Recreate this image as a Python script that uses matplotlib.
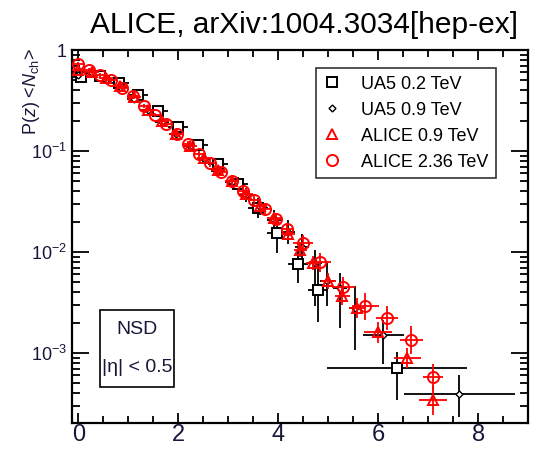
import numpy as np
import matplotlib
matplotlib.use("Agg")
import matplotlib.pyplot as plt
from matplotlib import font_manager
from matplotlib.patches import Rectangle
from matplotlib.lines import Line2D

# ---- data: multiplicity distributions in KNO variable z = N_ch/<N_ch> ----
ua5_200_z = [0.05, 0.43, 0.82, 1.20, 1.60, 2.00, 2.40, 2.80, 3.20, 3.60, 3.98, 4.40, 4.80, 6.38]
ua5_200_p = [0.54, 0.55, 0.47, 0.355, 0.25, 0.174, 0.115, 0.074, 0.047, 0.0275, 0.0155, 0.0076, 0.0042, 0.00071]
ua5_200_xe = [0.2, 0.2, 0.2, 0.2, 0.2, 0.2, 0.2, 0.2, 0.2, 0.2, 0.2, 0.2, 0.2, 1.4]
ua5_200_up = [0.02, 0.02, 0.02, 0.02, 0.02, 0.03, 0.04, 0.05, 0.07, 0.10, 0.08, 0.14, 0.27, 0.16]
ua5_200_dn = [0.02, 0.02, 0.02, 0.02, 0.02, 0.03, 0.04, 0.05, 0.07, 0.10, 0.20, 0.19, 0.32, 0.32]

ua5_900_z = [0.00, 0.28, 0.56, 0.84, 1.12, 1.40, 1.68, 1.96, 2.24, 2.52, 2.80, 3.08,
             3.36, 3.64, 3.92, 4.20, 4.48, 4.74, 4.98, 5.24, 5.54, 6.10, 7.62]
ua5_900_p = [0.56, 0.59, 0.51, 0.43, 0.33, 0.257, 0.195, 0.148, 0.112, 0.083, 0.063, 0.049,
             0.037, 0.0282, 0.0209, 0.0158, 0.0112, 0.0078, 0.0052, 0.0044, 0.0028, 0.0015, 0.00039]
ua5_900_xe = [0.14] * 20 + [0.12, 0.41, 1.11]
ua5_900_up = [0.02, 0.02, 0.02, 0.02, 0.02, 0.02, 0.03, 0.03, 0.04, 0.04, 0.05, 0.06,
              0.07, 0.08, 0.10, 0.12, 0.13, 0.13, 0.18, 0.15, 0.22, 0.15, 0.19]
ua5_900_dn = [0.02, 0.02, 0.02, 0.02, 0.02, 0.02, 0.03, 0.03, 0.04, 0.04, 0.05, 0.06,
              0.07, 0.08, 0.10, 0.12, 0.16, 0.43, 0.25, 0.40, 0.42, 0.28, 0.22]

alice_900_z = [0.00, 0.28, 0.56, 0.84, 1.12, 1.40, 1.68, 1.96, 2.24, 2.52, 2.80, 3.08, 3.36,
               3.64, 3.92, 4.20, 4.44, 4.70, 5.00, 5.28, 5.58, 6.00, 6.58, 7.10]
alice_900_p = [0.63, 0.60, 0.525, 0.437, 0.34, 0.257, 0.20, 0.148, 0.112, 0.085, 0.0646, 0.050, 0.038,
               0.0288, 0.0219, 0.0150, 0.0105, 0.0078, 0.0052, 0.0037, 0.0028, 0.0016, 0.00089, 0.00034]
alice_900_xe = [0.14] * 16 + [0.13, 0.14, 0.15, 0.15, 0.17, 0.28, 0.27, 0.28]
alice_900_de = [0.02, 0.02, 0.02, 0.02, 0.02, 0.02, 0.02, 0.03, 0.03, 0.03, 0.04, 0.04, 0.05,
                0.05, 0.06, 0.06, 0.07, 0.07, 0.08, 0.09, 0.10, 0.10, 0.10, 0.14]

alice_2360_z = [0.00, 0.22, 0.44, 0.66, 0.88, 1.10, 1.32, 1.54, 1.76, 1.98, 2.20, 2.42, 2.64, 2.86,
                3.08, 3.30, 3.52, 3.74, 3.96, 4.18, 4.50, 4.84, 5.30, 5.74, 6.18, 6.66, 7.10]
alice_2360_p = [0.72, 0.63, 0.56, 0.50, 0.417, 0.347, 0.282, 0.229, 0.186, 0.148, 0.117, 0.093, 0.076,
                0.0617, 0.050, 0.0407, 0.0331, 0.0269, 0.0214, 0.0170, 0.0123, 0.0079, 0.0045, 0.0029,
                0.00224, 0.00135, 0.00058]
alice_2360_xe = [0.11] * 20 + [0.2, 0.22, 0.23, 0.27, 0.22, 0.23, 0.2]
alice_2360_de = [0.02, 0.02, 0.02, 0.02, 0.02, 0.02, 0.02, 0.02, 0.03, 0.03, 0.03, 0.03, 0.04, 0.04,
                 0.04, 0.05, 0.05, 0.05, 0.06, 0.06, 0.08, 0.09, 0.10, 0.13, 0.12, 0.14, 0.13]

series_labels = ["UA5 0.2 TeV", "UA5 0.9 TeV", "ALICE 0.9 TeV", "ALICE 2.36 TeV"]
x_ticks = [0, 2, 4, 6, 8]
y_ticks = [1e-3, 1e-2, 1e-1, 1]
y_tick_labels = [r"10$^{-3}$", r"10$^{-2}$", r"10$^{-1}$", "1"]
title_text = "ALICE, arXiv:1004.3034[hep-ex]"
box_lines = ["NSD", "|\u03b7| < 0.5"]

# ---- fonts ----
names = {f.name for f in font_manager.fontManager.ttflist}
narrow = "Liberation Sans Narrow" if "Liberation Sans Narrow" in names else "Liberation Sans"
plt.rcParams["font.family"] = ["Liberation Sans", "DejaVu Sans"]
plt.rcParams["mathtext.fontset"] = "custom"
plt.rcParams["mathtext.rm"] = narrow
plt.rcParams["mathtext.it"] = narrow + ":italic"
label_color = "#17173a"

# marker styles per series
styles = [
    dict(marker="s", ms=7, mfc="white", mec="black", mew=1.4, ecolor="black"),
    dict(marker="D", ms=3.5, mfc="white", mec="black", mew=1.0, ecolor="black"),
    dict(marker="^", ms=7, mfc="none", mec="red", mew=1.4, ecolor="red"),
    dict(marker="o", ms=8, mfc="none", mec="red", mew=1.4, ecolor="red"),
]


def asym(p, up, dn):
    p = np.asarray(p)
    return [p * (1 - 10 ** -np.asarray(dn)), p * (10 ** np.asarray(up) - 1)]


fig = plt.figure(figsize=(5.39, 4.51), dpi=100)
ax = fig.add_axes([0.134, 0.062, 0.846, 0.827])

common = dict(linestyle="none", elinewidth=1.3, capsize=0)
ax.errorbar(ua5_200_z, ua5_200_p, xerr=ua5_200_xe, yerr=asym(ua5_200_p, ua5_200_up, ua5_200_dn),
            zorder=3, **styles[0], **common)
ax.errorbar(ua5_900_z, ua5_900_p, xerr=ua5_900_xe, yerr=asym(ua5_900_p, ua5_900_up, ua5_900_dn),
            zorder=3, **styles[1], **common)
ax.errorbar(alice_900_z, alice_900_p, xerr=alice_900_xe, yerr=asym(alice_900_p, alice_900_de, alice_900_de),
            zorder=4, **styles[2], **common)
ax.errorbar(alice_2360_z, alice_2360_p, xerr=alice_2360_xe, yerr=asym(alice_2360_p, alice_2360_de, alice_2360_de),
            zorder=4, **styles[3], **common)

ax.set_yscale("log")
ax.set_xlim(-0.12, 9.0)
ax.set_ylim(2.03e-4, 1.0)

for s in ax.spines.values():
    s.set_linewidth(1.6)

ax.set_xticks(x_ticks)
ax.set_xticks(np.arange(0, 9.01, 0.5), minor=True)
ax.set_xticklabels([str(v) for v in x_ticks], fontfamily=narrow, fontsize=17, color=label_color)
ax.set_yticks(y_ticks)
ax.set_yticklabels(y_tick_labels, fontfamily=narrow, fontsize=13, color=label_color)
ax.yaxis.set_minor_locator(matplotlib.ticker.LogLocator(base=10, subs=np.arange(2, 10)))
ax.yaxis.set_minor_formatter(matplotlib.ticker.NullFormatter())
ax.tick_params(axis="both", which="both", direction="in", top=True, right=True, width=1.3)
ax.tick_params(axis="y", which="major", length=12, pad=4)
ax.tick_params(axis="y", which="minor", length=6)
ax.tick_params(axis="x", which="major", length=7, pad=1)
ax.tick_params(axis="x", which="minor", length=5)

# legend shows markers only
handles = []
for st in styles:
    st = {k: v for k, v in st.items() if k != "ecolor"}
    handles.append(Line2D([], [], linestyle="none", **st))
leg = ax.legend(handles, series_labels, loc="upper left", bbox_to_anchor=(0.535, 0.951), frameon=True,
                fancybox=False, edgecolor="black", fontsize=13, handlelength=1.0, handletextpad=1.1,
                borderpad=0.4, labelspacing=0.5, borderaxespad=0)
leg.get_frame().set_linewidth(1.2)

# NSD / eta box
ax.add_patch(Rectangle((0.061, 0.0965), 0.163, 0.2065, transform=ax.transAxes,
                       fill=False, edgecolor="black", lw=1.2, zorder=5))
ax.text(0.143, 0.252, box_lines[0], transform=ax.transAxes, ha="center", va="center",
        fontsize=14, fontfamily=narrow, color=label_color)
ax.text(0.143, 0.150, box_lines[1], transform=ax.transAxes, ha="center", va="center",
        fontsize=14, fontfamily=narrow, color=label_color)

fig.text(31 / 539, 1 - 92 / 451, r"P($z$) <$N_{\rm ch}$>", rotation=90, ha="center", va="center",
         fontsize=13, fontfamily=narrow, color=label_color)
fig.text(518 / 539, 1 - 33 / 451, title_text, ha="right", va="baseline", fontsize=21.5,
         fontfamily="Liberation Sans", color="black")

fig.savefig("out.png", dpi=100)
